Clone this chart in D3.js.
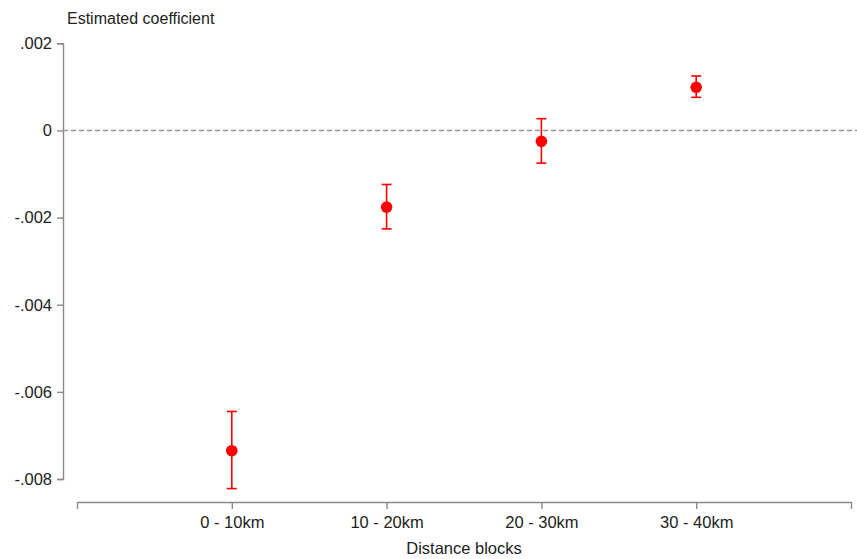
<!DOCTYPE html>
<html>
<head>
<meta charset="utf-8">
<script src="https://cdn.jsdelivr.net/npm/d3@7"></script>
<style>
  body { margin: 0; background: #fff; }
  text { font-family: "Liberation Sans", Arial, sans-serif; fill: #222; }
</style>
</head>
<body>
<script>
'use strict';

// categories and estimates
const blocks = ["0 - 10km", "10 - 20km", "20 - 30km", "30 - 40km"];
const estimate = [-0.00735, -0.00176, -0.00025, 0.00099];
const ciLow = [-0.00822, -0.00226, -0.00075, 0.00076];
const ciHigh = [-0.00645, -0.00124, 0.00027, 0.00125];
const yTicks = [0.002, 0, -0.002, -0.004, -0.006, -0.008];

const svg = d3.select("body").append("svg")
  .attr("width", 857)
  .attr("height", 559);

// x positions: categories at 1..4 on a 0..5 line
const xScale = d3.scaleLinear().domain([0, 5]).range([77, 851]);
const yScale = d3.scaleLinear().domain([-0.008, 0.002]).range([479, 43.3]);

const axisColor = "#8a8a8a";

// format like ".002" and "-.004" (plain hyphen, no leading zero)
function fmt(v) {
  if (v === 0) return "0";
  let s = Math.abs(v).toFixed(3).replace("0.", ".");
  return (v < 0 ? "-" : "") + s;
}

// y axis
const yAxis = svg.append("g")
  .attr("transform", "translate(63,0)")
  .call(d3.axisLeft(yScale).tickValues(yTicks).tickFormat(fmt).tickSize(6).tickPadding(5));
yAxis.selectAll("path, line").attr("stroke", axisColor).attr("stroke-width", 1.4);
yAxis.selectAll("text").style("font-size", "16.5px").attr("fill", "#222");

// x axis
const xAxis = svg.append("g")
  .attr("transform", "translate(0,502)")
  .call(d3.axisBottom(xScale).tickValues([1, 2, 3, 4])
    .tickFormat((d) => blocks[d - 1]).tickSize(7).tickPadding(7));
xAxis.selectAll("path, line").attr("stroke", axisColor).attr("stroke-width", 1.4);
xAxis.selectAll("text").style("font-size", "16.5px").attr("fill", "#222");

// zero reference line
svg.append("line")
  .attr("x1", 63)
  .attr("x2", 857)
  .attr("y1", yScale(0))
  .attr("y2", yScale(0))
  .attr("stroke", "#999")
  .attr("stroke-width", 1.4)
  .attr("stroke-dasharray", "5,3");

// axis titles
svg.append("text")
  .attr("x", 67)
  .attr("y", 24)
  .style("font-size", "16px")
  .text("Estimated coefficient");

svg.append("text")
  .attr("x", 464)
  .attr("y", 554)
  .attr("text-anchor", "middle")
  .style("font-size", "16.5px")
  .text("Distance blocks");

// error bars
const red = "#ff0000";
const idx = d3.range(blocks.length);

svg.selectAll(".ci")
  .data(idx)
  .enter().append("line")
  .attr("class", "ci")
  .attr("x1", (i) => xScale(i + 1))
  .attr("x2", (i) => xScale(i + 1))
  .attr("y1", (i) => yScale(ciLow[i]))
  .attr("y2", (i) => yScale(ciHigh[i]))
  .attr("stroke", red)
  .attr("stroke-width", 1.6);

["low", "high"].forEach((k) => {
  svg.selectAll(".cap-" + k)
    .data(idx)
    .enter().append("line")
    .attr("class", "cap-" + k)
    .attr("x1", (i) => xScale(i + 1) - 5)
    .attr("x2", (i) => xScale(i + 1) + 5)
    .attr("y1", (i) => yScale(k === "low" ? ciLow[i] : ciHigh[i]))
    .attr("y2", (i) => yScale(k === "low" ? ciLow[i] : ciHigh[i]))
    .attr("stroke", red)
    .attr("stroke-width", 1.6);
});

// point estimates
svg.selectAll(".pt")
  .data(idx)
  .enter().append("circle")
  .attr("class", "pt")
  .attr("cx", (i) => xScale(i + 1))
  .attr("cy", (i) => yScale(estimate[i]))
  .attr("r", 5.8)
  .attr("fill", red);
</script>
</body>
</html>
